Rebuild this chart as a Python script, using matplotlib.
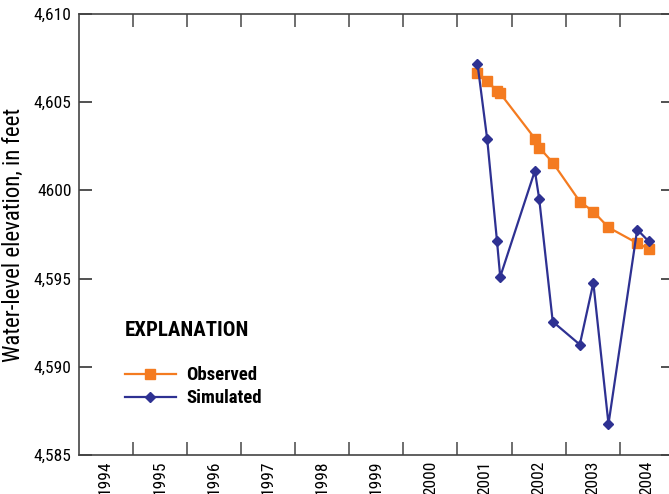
import matplotlib
matplotlib.use("Agg")
import matplotlib.pyplot as plt
from matplotlib import font_manager
from matplotlib.ticker import FixedLocator, FixedFormatter

# prefer a narrow sans face if one is installed
installed = {f.name for f in font_manager.fontManager.ttflist}
face = 'Liberation Sans'
for cand in ['Liberation Sans Narrow', 'Roboto Condensed', 'Open Sans Condensed',
             'DejaVu Sans Condensed']:
    if cand in installed:
        face = cand
        break
plt.rcParams['font.family'] = [face, 'DejaVu Sans']
narrow = face != 'Liberation Sans'

# sample dates (decimal years) shared by both series
dates = [2001.37, 2001.55, 2001.73, 2001.79, 2002.43, 2002.51, 2002.76,
         2003.26, 2003.51, 2003.79, 2004.32, 2004.53]
observed = [4606.63, 4606.18, 4605.65, 4605.50, 4602.94, 4602.43, 4601.58,
            4599.37, 4598.80, 4597.90, 4597.01, 4596.69]
simulated = [4607.18, 4602.89, 4597.14, 4595.10, 4601.11, 4599.52, 4592.56,
             4591.26, 4594.76, 4586.76, 4597.78, 4597.12]

years = list(range(1994, 2005))
ytick_vals = [4585, 4590, 4595, 4600, 4605, 4610]
ytick_text = ['4,585', '4,590', '4,595', '4600', '4,605', '4,610']

orange = '#F47B20'
navy = '#2E3192'

fig = plt.figure(figsize=(6.69, 4.94), dpi=100)
ax = fig.add_axes([78.5 / 669, 39 / 494, 595.5 / 669, 441 / 494])

ax.plot(dates, observed, color=orange, lw=1.6, marker='s', ms=6.5,
        mec=orange, mfc=orange, label='Observed', zorder=3)
ax.plot(dates, simulated, color=navy, lw=1.6, marker='D', ms=5.5,
        mec=navy, mfc=navy, label='Simulated', zorder=4)

ax.set_xlim(1994, 2005)
ax.set_ylim(4585, 4610)

# year boundaries get tick marks, labels sit mid-year
ax.xaxis.set_major_locator(FixedLocator([y + 1 for y in years]))
ax.xaxis.set_major_formatter(FixedFormatter([''] * len(years)))
ax.xaxis.set_minor_locator(FixedLocator([y + 0.5 for y in years]))
ax.xaxis.set_minor_formatter(FixedFormatter([str(y) for y in years]))
ax.tick_params(axis='x', which='minor', length=0,
               labelsize=12.5 if narrow else 10, labelrotation=90, pad=4)
ax.tick_params(axis='x', which='major', direction='in', length=9.5,
               width=1.2, top=True, color='#555555')

ax.yaxis.set_major_locator(FixedLocator(ytick_vals))
ax.yaxis.set_major_formatter(FixedFormatter(ytick_text))
ax.tick_params(axis='y', direction='in', length=9.5, width=1.2, right=True,
               labelsize=12.5 if narrow else 11.5, pad=5, color='#333333')

for s in ax.spines.values():
    s.set_linewidth(1.2)
    s.set_color('#444444')

ax.set_ylabel('Water-level elevation, in feet', fontsize=16.5 if narrow else 15,
              labelpad=6)

leg = ax.legend(loc='upper left', bbox_to_anchor=(0.05, 0.342), frameon=False,
                title='EXPLANATION', handlelength=2.7, handletextpad=0.55,
                labelspacing=0.25, prop={'size': 13.5, 'weight': 'bold'})
leg.get_title().set_fontsize(15)
leg.get_title().set_fontweight('bold')
leg._legend_box.align = 'left'
leg._legend_box.sep = 19

fig.savefig('out.png', dpi=100)
